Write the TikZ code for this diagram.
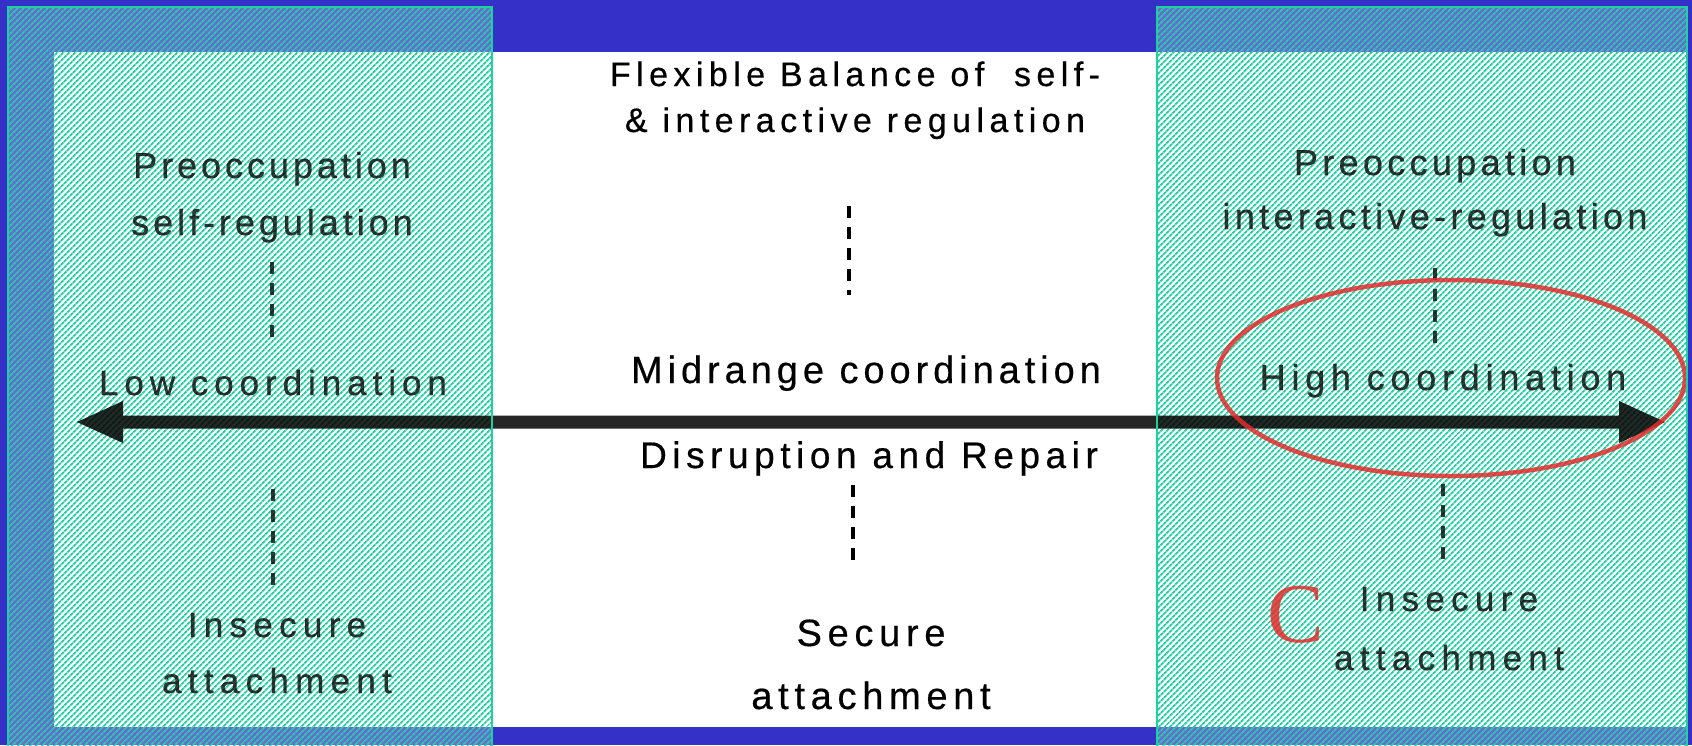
\documentclass[tikz,border=0pt]{standalone}
\usepackage{fontspec}
\setmainfont{Liberation Sans}[FakeBold=0.5]
\newfontfamily\capfont{Liberation Serif}
\usetikzlibrary{arrows.meta,patterns.meta}
\definecolor{bgblue}{RGB}{52,48,200}
\definecolor{hatchteal}{RGB}{30,210,160}
\definecolor{ringred}{RGB}{225,45,45}
\newcommand\spaced[3]{\fontsize{#1}{#2}\selectfont\addfontfeature{LetterSpace=#3}}
\tikzset{
  lbl/.style={inner sep=0pt, align=center, anchor=base},
  sidelbl/.style={lbl, text opacity=.78},
  vdash/.style={line width=3.5pt, dash pattern=on 12pt off 9pt},
  bigarrow/.style={line width=13pt, {Triangle[length=48pt,width=38pt]}-{Triangle[length=48pt,width=38pt]}},
  hatch/.style={pattern={Lines[angle=45,distance=4pt,line width=1.8pt]}, pattern color=hatchteal},
  ring/.style={draw=ringred, line width=4.5pt, draw opacity=.85}
}
\begin{document}
\begin{tikzpicture}[x=1pt,y=-1pt]
    \useasboundingbox (0,0) rectangle (1692,745);
    \fill[bgblue] (0,0) rectangle (1692,745);
    \fill[white] (54,52) rectangle (1687,727);
    % hatched side panels
    \foreach \xa/\xb in {8/492, 1157/1687} {
      \fill[white, fill opacity=.28] (\xa,7) rectangle (\xb,750);
      \path[hatch] (\xa,7) rectangle (\xb,750);
    }
    % middle column
    \node[lbl, font=\spaced{34}{46}{16}] (flex) at (855,132) {Flexible Balance of~ self-\\\& interactive regulation};
    \node[lbl, font=\spaced{38}{46}{13}] (mid) at (866,383) {Midrange coordination};
    \node[lbl, font=\spaced{37}{46}{15}] (disr) at (869,468) {Disruption and Repair};
    \node[lbl, font=\spaced{38}{63}{15}] (sec) at (871,709) {Secure\\attachment};
    % left panel
    \node[sidelbl, font=\spaced{36}{57}{11}] (lpre) at (272,235) {Preoccupation\\self-regulation};
    \node[sidelbl, font=\spaced{35}{46}{17}] (llow) at (273,395) {Low coordination};
    \node[sidelbl, font=\spaced{35}{56}{18}] (lins) at (277,693) {Insecure\\attachment};
    % right panel
    \node[sidelbl, font=\spaced{36}{54}{12}] (rpre) at (1435,229) {Preoccupation\\interactive-regulation};
    \node[sidelbl, font=\spaced{36}{46}{16}] (rhigh) at (1443,390) {High coordination};
    \node[sidelbl, font=\spaced{35}{59}{18}] (rins) at (1449,670) {Insecure\\attachment};
    \node[inner sep=0pt, text=ringred, text opacity=.85, font=\capfont\fontsize{85}{85}\selectfont] (cmark) at (1296,615) {C};
    % dashed links
    \draw[vdash] ([xshift=-6pt,yshift=-67pt]flex.south) -- ([xshift=-6pt,yshift=60pt]flex.south |- mid.north);
    \draw[vdash] ([xshift=-16pt,yshift=-9pt]disr.south) -- ([xshift=-16pt,yshift=51pt]disr.south |- sec.north);
    \draw[vdash, draw opacity=.78] ([yshift=-19pt]lpre.south) -- ([yshift=32pt]lpre.south |- llow.north);
    \draw[vdash, draw opacity=.78] ([yshift=-93pt]llow.south) -- ([yshift=25pt]llow.south |- lins.north);
    \draw[vdash, draw opacity=.78] ([yshift=-31pt]rpre.south) -- ([yshift=19pt]rpre.south |- rhigh.north);
    \draw[vdash, draw opacity=.78] ([yshift=-86pt]rhigh.south) -- ([yshift=22pt]rhigh.south |- rins.north);
    % axis
    \coordinate (ltip) at (75,422);
    \coordinate (rtip) at (1667,422);
    \begin{scope}[transparency group, opacity=.85]
      \draw[bigarrow] (ltip) -- (rtip);
    \end{scope}
    \draw[ring] (1451,378) ellipse [x radius=234, y radius=98];
    % panel borders
    \foreach \xa/\xb in {8/492, 1157/1687} {
      \draw[hatchteal, line width=2pt] (\xa,750) |- (\xb,7) -- (\xb,750);
    }
\end{tikzpicture}
\end{document}
